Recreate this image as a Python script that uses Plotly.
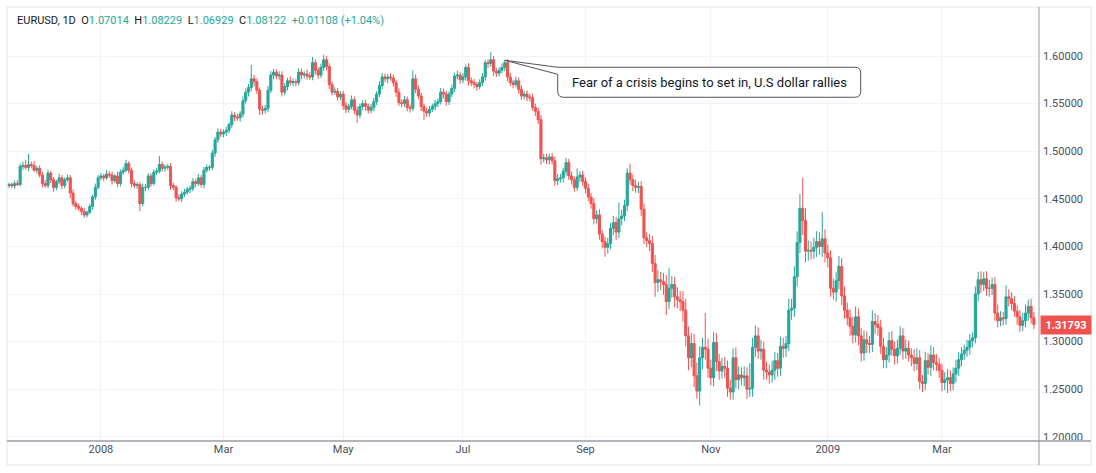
import numpy as np
import pandas as pd
import plotly.graph_objects as go

# ---------------- data (EURUSD daily, values in pips = 1/10000) ----------------
SYMBOL = "EURUSD, 1D"
START = "2007-11-15"
END = "2009-04-16"
HOLIDAYS = ["2008-12-25", "2009-01-01"]
FIRST_OPEN = 14640

close_pips = [
    14650, 14635, 14660, 14650, 14840, 14850, 14830, 14860, 14850, 14800, 14820, 14750,  # Nov 07
    14660, 14640, 14770, 14700, 14620, 14680, 14720, 14640, 14700, 14720, 14560, 14450, 14420, 14400, 14370, 14330, 14360, 14420, 14520, 14620, 14720,  # Dec 07
    14740, 14720, 14760, 14750, 14690, 14740, 14660, 14780, 14800, 14870, 14800, 14660, 14640, 14650, 14450, 14620, 14620, 14740, 14660, 14780, 14790, 14860, 14820,  # Jan 08
    14830, 14840, 14640, 14620, 14510, 14500, 14550, 14570, 14600, 14610, 14680, 14660, 14720, 14650, 14800, 14830, 14830, 14980, 15120, 15200, 15180,  # Feb 08
    15200, 15220, 15280, 15380, 15360, 15350, 15390, 15530, 15620, 15670, 15760, 15730, 15640, 15440, 15430, 15450, 15640, 15800, 15830, 15790, 15800,  # Mar 08
    15620, 15680, 15740, 15720, 15730, 15720, 15830, 15800, 15810, 15790, 15780, 15930, 15850, 15800, 15880, 15960, 15890, 15700, 15620, 15630, 15570, 15600,  # Apr 08
    15480, 15440, 15470, 15540, 15430, 15380, 15470, 15500, 15470, 15430, 15460, 15520, 15600, 15690, 15780, 15760, 15780, 15770, 15720, 15620, 15510, 15500,  # May 08
    15540, 15460, 15450, 15760, 15650, 15580, 15470, 15420, 15400, 15440, 15470, 15500, 15520, 15620, 15600, 15520, 15600, 15660, 15790, 15800, 15750,  # Jun 08
    15780, 15880, 15740, 15720, 15700, 15680, 15720, 15780, 15930, 15920, 15960, 15840, 15820, 15850, 15880, 15930, 15780, 15720, 15700, 15740, 15650, 15580, 15600,  # Jul 08
    15570, 15560, 15460, 15420, 15330, 14920, 14930, 14910, 14940, 14900, 14690, 14710, 14720, 14790, 14880, 14740, 14700, 14620, 14730, 14750, 14680,  # Aug 08
    14610, 14520, 14450, 14290, 14330, 14130, 14050, 13990, 14030, 14190, 14250, 14150, 14290, 14320, 14430, 14770, 14700, 14640, 14620, 14630, 14390, 14090,  # Sep 08
    14060, 14030, 13820, 13620, 13650, 13630, 13600, 13420, 13560, 13600, 13470, 13440, 13420, 13330, 13060, 12830, 12980, 12640, 12480, 12830, 12940, 12920, 12720,  # Oct 08
    12620, 12990, 12790, 12690, 12740, 12720, 12510, 12470, 12830, 12600, 12650, 12620, 12640, 12500, 12510, 12940, 13060, 12900, 12920, 12700,  # Nov 08
    12680, 12650, 12700, 12800, 12720, 12950, 12930, 12980, 13330, 13350, 13680, 14040, 14400, 14270, 13950, 13960, 13950, 13990, 14050, 14000, 14080, 13930,  # Dec 08
    13880, 13560, 13520, 13640, 13790, 13480, 13330, 13250, 13160, 13070, 13260, 13060, 12880, 13020, 12980, 12970, 13210, 13180, 13150, 12950, 12810,  # Jan 09
    12860, 13010, 12920, 12850, 12930, 13060, 12900, 12930, 12860, 12830, 12770, 12830, 12580, 12560, 12800, 12730, 12860, 12780, 12760, 12700,  # Feb 09
    12570, 12600, 12620, 12560, 12660, 12720, 12810, 12870, 12910, 12940, 13010, 13040, 13500, 13650, 13600, 13660, 13560, 13560, 13600, 13300, 13220, 13250,  # Mar 09
    13240, 13470, 13450, 13400, 13320, 13260, 13170, 13220, 13300, 13370, 13250, 13179.3,  # Apr 09
]

wick_up_pips = [
    20, 25, 30, 35, 30, 40, 60, 110, 30, 45, 25, 30,
    30, 40, 35, 25, 30, 20, 45, 30, 25, 35, 30, 40, 25, 30, 20, 35, 15, 30, 25, 40, 30,
    30, 25, 40, 30, 35, 20, 45, 30, 35, 40, 25, 30, 35, 25, 30, 40, 35, 30, 25, 30, 35, 90, 30,
    30, 25, 35, 30, 25, 40, 30, 35, 25, 30, 35, 25, 40, 30, 35, 30, 25, 35, 30, 40, 35,
    30, 35, 25, 40, 30, 35, 30, 45, 40, 35, 145, 40, 35, 30, 40, 35, 45, 40, 35, 30, 40,
    40, 35, 30, 45, 35, 30, 40, 35, 30, 45, 40, 60, 35, 30, 40, 55, 40, 35, 30, 40, 35, 30,
    35, 40, 30, 45, 35, 40, 30, 35, 40, 30, 35, 40, 30, 45, 40, 35, 30, 40, 35, 30, 40, 35,
    40, 35, 30, 90, 45, 40, 35, 30, 40, 35, 30, 40, 35, 45, 40, 35, 30, 40, 35, 45, 30,
    40, 30, 45, 35, 40, 30, 35, 40, 30, 35, 80, 40, 35, 30, 40, 25, 35, 40, 30, 45, 35, 40, 30,
    40, 35, 45, 40, 35, 50, 45, 40, 35, 40, 45, 50, 40, 35, 50, 40, 45, 35, 90, 40, 45,
    45, 50, 40, 55, 50, 60, 45, 50, 60, 55, 70, 60, 170, 65, 60, 50, 100, 55, 60, 50, 55, 60,
    60, 70, 80, 90, 100, 80, 90, 100, 210, 90, 80, 100, 90, 110, 120, 100, 110, 100, 140, 120, 100, 360, 110,
    90, 110, 100, 80, 90, 100, 80, 90, 100, 110, 90, 80, 100, 90, 265, 100, 110, 90, 100, 80,
    90, 80, 100, 90, 80, 100, 90, 80, 120, 100, 110, 120, 150, 320, 130, 100, 90, 100, 110, 100, 280, 100,
    90, 80, 100, 90, 110, 90, 100, 80, 90, 100, 110, 90, 80, 100, 90, 80, 120, 90, 100, 80, 90,
    80, 90, 100, 80, 90, 100, 80, 90, 80, 70, 90, 100, 80, 70, 90, 80, 100, 80, 90, 70,
    70, 80, 90, 80, 70, 90, 80, 70, 60, 80, 70, 60, 80, 80, 90, 70, 80, 90, 70, 80, 90, 70,
    60, 120, 80, 70, 80, 60, 70, 80, 90, 70, 80, 60,
]

wick_dn_pips = [
    25, 20, 30, 15, 20, 35, 25, 40, 30, 20, 35, 25,
    40, 25, 30, 35, 45, 30, 25, 40, 30, 20, 55, 30, 35, 25, 40, 30, 25, 20, 35, 30, 25,
    25, 35, 20, 30, 40, 25, 35, 30, 25, 20, 35, 40, 30, 35, 80, 30, 40, 25, 35, 20, 30, 25, 35,
    35, 30, 45, 30, 40, 25, 35, 30, 25, 40, 30, 35, 25, 30, 40, 25, 35, 30, 40, 35, 30,
    35, 40, 30, 35, 45, 30, 40, 35, 30, 45, 40, 50, 40, 60, 45, 35, 40, 30, 45, 35, 40,
    45, 35, 40, 30, 35, 40, 30, 45, 35, 40, 30, 35, 45, 40, 30, 35, 40, 45, 35, 30, 40, 35,
    45, 40, 35, 30, 40, 80, 35, 40, 45, 35, 30, 40, 35, 30, 40, 35, 45, 30, 40, 50, 35, 40,
    35, 40, 45, 30, 40, 35, 50, 90, 40, 35, 30, 40, 35, 30, 45, 40, 35, 30, 40, 35, 45,
    35, 40, 50, 35, 40, 45, 30, 35, 40, 45, 35, 50, 40, 35, 30, 40, 45, 35, 40, 30, 45, 40, 35,
    45, 40, 35, 50, 45, 60, 40, 45, 50, 40, 55, 45, 40, 50, 45, 40, 50, 45, 40, 50, 45,
    50, 45, 55, 60, 50, 60, 70, 100, 65, 60, 70, 80, 60, 70, 55, 60, 50, 60, 55, 60, 70, 65,
    70, 80, 90, 150, 100, 90, 110, 140, 80, 100, 110, 90, 100, 120, 110, 130, 100, 120, 80, 150, 120, 110, 100,
    80, 90, 100, 90, 80, 100, 90, 80, 80, 90, 100, 80, 90, 100, 80, 90, 100, 80, 90, 100,
    80, 90, 80, 100, 90, 80, 100, 90, 80, 100, 90, 100, 110, 150, 120, 100, 90, 80, 100, 90, 110, 100,
    100, 90, 80, 100, 90, 100, 90, 80, 100, 90, 80, 100, 90, 80, 100, 90, 80, 100, 90, 80, 90,
    90, 80, 70, 90, 80, 70, 90, 80, 70, 90, 80, 70, 80, 90, 70, 80, 90, 80, 70, 80,
    90, 80, 140, 80, 70, 90, 80, 70, 60, 70, 80, 70, 60, 80, 90, 70, 80, 90, 70, 80, 70, 60,
    70, 60, 80, 70, 60, 80, 70, 60, 70, 80, 60, 50,
]

tick_months = ["2008-01-01", "2008-03-01", "2008-05-01", "2008-07-01",
               "2008-09-01", "2008-11-01", "2009-01-01", "2009-03-01"]
tick_text = ["2008", "Mar", "May", "Jul", "Sep", "Nov", "2009", "Mar"]
y_ticks = [1.20, 1.25, 1.30, 1.35, 1.40, 1.45, 1.50, 1.55, 1.60]

legend_open = "1.07014"
legend_high = "1.08229"
legend_low = "1.06929"
legend_close = "1.08122"
legend_change = "+0.01108 (+1.04%)"

note_text = "Fear of a crisis begins to set in, U.S dollar rallies"
note_date = "2008-07-22"

# ---------------- build ----------------
dates = pd.bdate_range(START, END)
dates = dates[~dates.isin(pd.to_datetime(HOLIDAYS))]
n = len(close_pips)
if not (len(dates) == n == len(wick_up_pips) == len(wick_dn_pips)):
    raise ValueError(f"length mismatch {len(dates)} {n} {len(wick_up_pips)} {len(wick_dn_pips)}")

closes = np.array(close_pips, dtype=float) / 1e4
opens = np.concatenate([[FIRST_OPEN / 1e4], closes[:-1]])   # FX daily open = prior close
highs = np.maximum(opens, closes) + np.array(wick_up_pips) / 1e4
lows = np.minimum(opens, closes) - np.array(wick_dn_pips) / 1e4
x = np.arange(n)

tickvals = [int(np.searchsorted(dates.values, np.datetime64(m))) for m in tick_months]

UP = "#26a69a"
DOWN = "#ef5350"
GRID = "#f0f3fa"
TXT = "#131722"
AXTXT = "#4a4e59"
FONT = "Roboto"

fig = go.Figure()
fig.add_trace(go.Candlestick(
    x=x, open=opens, high=highs, low=lows, close=closes,
    increasing=dict(line=dict(color=UP, width=1), fillcolor=UP),
    decreasing=dict(line=dict(color=DOWN, width=1), fillcolor=DOWN),
    whiskerwidth=0, showlegend=False, hoverinfo="skip",
))

W, H = 1096, 473
ML, MR, MT, MB = 7, 57, 7, 32
PW, PH = W - ML - MR, H - MT - MB

fig.update_layout(
    width=W, height=H,
    margin=dict(l=ML, r=MR, t=MT, b=MB, pad=0),
    paper_bgcolor="white", plot_bgcolor="white",
    font=dict(family=FONT, size=11, color=TXT),
    showlegend=False,
    boxgap=0.25, boxgroupgap=0,
    xaxis=dict(
        range=[-0.72, 369.84], tickvals=tickvals, ticktext=tick_text,
        showgrid=True, gridcolor=GRID, gridwidth=1, zeroline=False,
        showline=False, ticks="", rangeslider=dict(visible=False),
        tickfont=dict(family=FONT, size=11, color=AXTXT), fixedrange=True,
    ),
    yaxis=dict(
        side="right", range=[1.19559, 1.65147],
        tickvals=y_ticks, ticktext=[f"{v:.5f}" for v in y_ticks],
        showgrid=True, gridcolor=GRID, gridwidth=1, zeroline=False,
        showline=False, ticks="", ticklabelstandoff=3,
        tickfont=dict(family=FONT, size=11, color=AXTXT), fixedrange=True,
    ),
)

# outer frame, pane separator and price-scale border
frame_r = (1091 - ML) / PW
frame_b = -(465 - (H - MB)) / PH
fig.add_shape(type="rect", xref="paper", yref="paper", x0=0, x1=frame_r, y0=frame_b, y1=1,
              line=dict(color="#e0e3eb", width=1), layer="above")
fig.add_shape(type="line", xref="paper", yref="paper", x0=0, x1=frame_r, y0=0, y1=0,
              line=dict(color="#b2b5be", width=2), layer="above")
fig.add_shape(type="line", xref="paper", yref="paper", x0=1, x1=1, y0=frame_b, y1=1,
              line=dict(color="#9598a1", width=1), layer="above")

# legend line
def span(t, c):
    return f'<span style="color:{c}">{t}</span>'
sp = "&nbsp;&nbsp;"
legend_html = (span(SYMBOL, TXT) + sp + span("O", TXT) + span(legend_open, UP) + sp +
               span("H", TXT) + span(legend_high, UP) + sp + span("L", TXT) + span(legend_low, UP) + sp +
               span("C", TXT) + span(legend_close, UP) + sp + span(legend_change, UP))
fig.add_annotation(xref="paper", yref="paper", x=(15 - ML) / PW, y=((H - MB) - 21) / PH,
                   xanchor="left", yanchor="middle", showarrow=False, text=legend_html,
                   font=dict(family=FONT, size=11, color=TXT))

# last price label
fig.add_annotation(xref="paper", yref="y", x=1, y=closes[-1], xanchor="left", yanchor="middle",
                   xshift=1, showarrow=False, text=f"<b>{closes[-1]:.5f}</b>",
                   bgcolor=DOWN, font=dict(family=FONT, size=11, color="white"),
                   width=48, height=16, borderpad=1, align="center")

# callout anchored to the candle of note_date
ni = int(np.searchsorted(dates.values, np.datetime64(note_date)))
nx, ny = ni, highs[ni]
bl, br, bt, bb, r = 53, 356, 7, 37, 6
path = (f"M 0,0 L {bl},{-bt} L {br - r},{-bt} Q {br},{-bt} {br},{-bt - r} "
        f"L {br},{-bb + r} Q {br},{-bb} {br - r},{-bb} L {bl + r},{-bb} "
        f"Q {bl},{-bb} {bl},{-bb + r} L {bl},{-bt - 7} Z")
fig.add_shape(type="path", xref="x", yref="y", xsizemode="pixel", ysizemode="pixel",
              xanchor=nx, yanchor=ny, path=path, fillcolor="white",
              line=dict(color="#50535e", width=1), layer="above")
fig.add_annotation(xref="x", yref="y", x=nx, y=ny, ax=(bl + br) / 2, ay=(bt + bb) / 2,
                   axref="pixel", ayref="pixel", showarrow=True, arrowcolor="rgba(0,0,0,0)",
                   arrowwidth=0.1, text=note_text, xanchor="center", yanchor="middle",
                   font=dict(family=FONT, size=13, color=TXT))

fig.write_html("out.html")
